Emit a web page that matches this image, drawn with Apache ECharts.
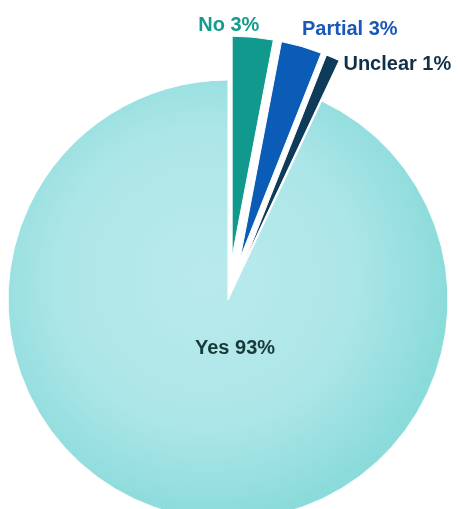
<!DOCTYPE html>
<html>
<head>
<meta charset="utf-8">
<script src="https://cdn.jsdelivr.net/npm/echarts@6/dist/echarts.min.js"></script>
<style>html,body{margin:0;padding:0;background:#fff;}#c{width:458px;height:509px;}</style>
</head>
<body>
<div id="c"></div>
<script>
var categories = ['No', 'Partial', 'Unclear', 'Yes'];
var values = [3, 3, 1, 93];
var exploded = [true, true, true, false];

var sliceColors = [
  '#11998d',
  '#0a5cb6',
  '#0e3b5a',
  { type: 'radial', x: 0.45, y: 0.45, r: 0.55,
    colorStops: [{ offset: 0, color: '#b9eaed' }, { offset: 0.6, color: '#ade6e8' }, { offset: 1, color: '#8bdbdb' }] }
];
var labelColors = ['#169a8c', '#1b57b8', '#10304a', '#173a38'];
var labelShift = [[-14, -118], [78, -120], [107, -91], [0, 0]];

var chart = echarts.init(document.getElementById('c'), null, { renderer: 'canvas' });
var data = categories.map(function (n, i) {
  return {
    name: n,
    value: values[i],
    selected: exploded[i],
    itemStyle: { color: sliceColors[i] },
    label: {
      color: labelColors[i],
      position: i === 3 ? 'center' : 'inside',
      offset: i === 3 ? [7, 48] : [0, 0]
    }
  };
});
chart.setOption({
  animation: false,
  series: [{
    type: 'pie',
    center: [228, 300],
    radius: [0, 220],
    startAngle: 90,
    clockwise: true,
    selectedMode: 'multiple',
    selectedOffset: 44,
    avoidLabelOverlap: false,
    itemStyle: { borderColor: '#ffffff', borderWidth: 1 },
    label: {
      show: true,
      formatter: '{b} {d}%',
      fontFamily: 'Liberation Sans, Arial, sans-serif',
      fontWeight: 'bold',
      fontSize: 20
    },
    labelLine: { show: false },
    labelLayout: function (p) {
      var s = labelShift[p.dataIndex];
      return { dx: s[0], dy: s[1], hideOverlap: false, moveOverlap: null };
    },
    emphasis: { disabled: true },
    data: data
  }]
});
</script>
</body>
</html>
